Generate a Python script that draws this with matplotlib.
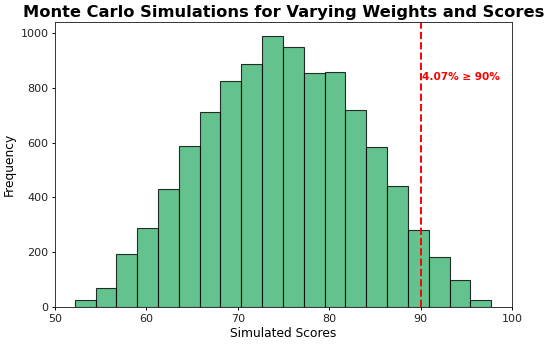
import matplotlib.pyplot as plt
import numpy as np

# Histogram values
bin_edges = [52.16, 54.44, 56.72, 58.99, 61.27, 63.55, 65.83, 68.10, 70.38, 72.66,
             74.94, 77.21, 79.49, 81.77, 84.05, 86.32, 88.60, 90.88, 93.16, 95.43, 97.71]
counts = [27, 71, 193, 288, 431, 588, 712, 823, 888, 990,
          949, 855, 858, 720, 584, 443, 280, 182, 100, 24]
threshold = 90
pct_above = 4.07

fig = plt.figure(figsize=(5.5, 3.45), dpi=100)
ax = fig.add_axes([0.1, 0.11, 0.831, 0.826])

edges = np.array(bin_edges)
ax.bar(edges[:-1], counts, width=np.diff(edges), align="edge",
       color="mediumseagreen", edgecolor="black", alpha=0.8, linewidth=0.8)
ax.axvline(threshold, color="red", linestyle="--", linewidth=1.4)
ax.text(threshold + 0.15, 840, f"{pct_above}% \u2265 {threshold}%", color="red",
        fontsize=7.6, fontweight="bold", va="center")

ax.set_xlim(50, 100)
ax.set_ylim(0, 1039.5)
ax.set_xticks([50, 60, 70, 80, 90, 100])
ax.tick_params(labelsize=8, length=2.4, width=0.7, pad=2.4, labelcolor="#222222")
for s in ax.spines.values():
    s.set_linewidth(0.7)
    s.set_color("#333333")
ax.set_title("Monte Carlo Simulations for Varying Weights and Scores",
             fontsize=11.7, fontweight="bold", pad=4)
ax.set_xlabel("Simulated Scores", fontsize=8.8, labelpad=2.5)
ax.set_ylabel("Frequency", fontsize=8.8, labelpad=3)

plt.savefig("out.png")
